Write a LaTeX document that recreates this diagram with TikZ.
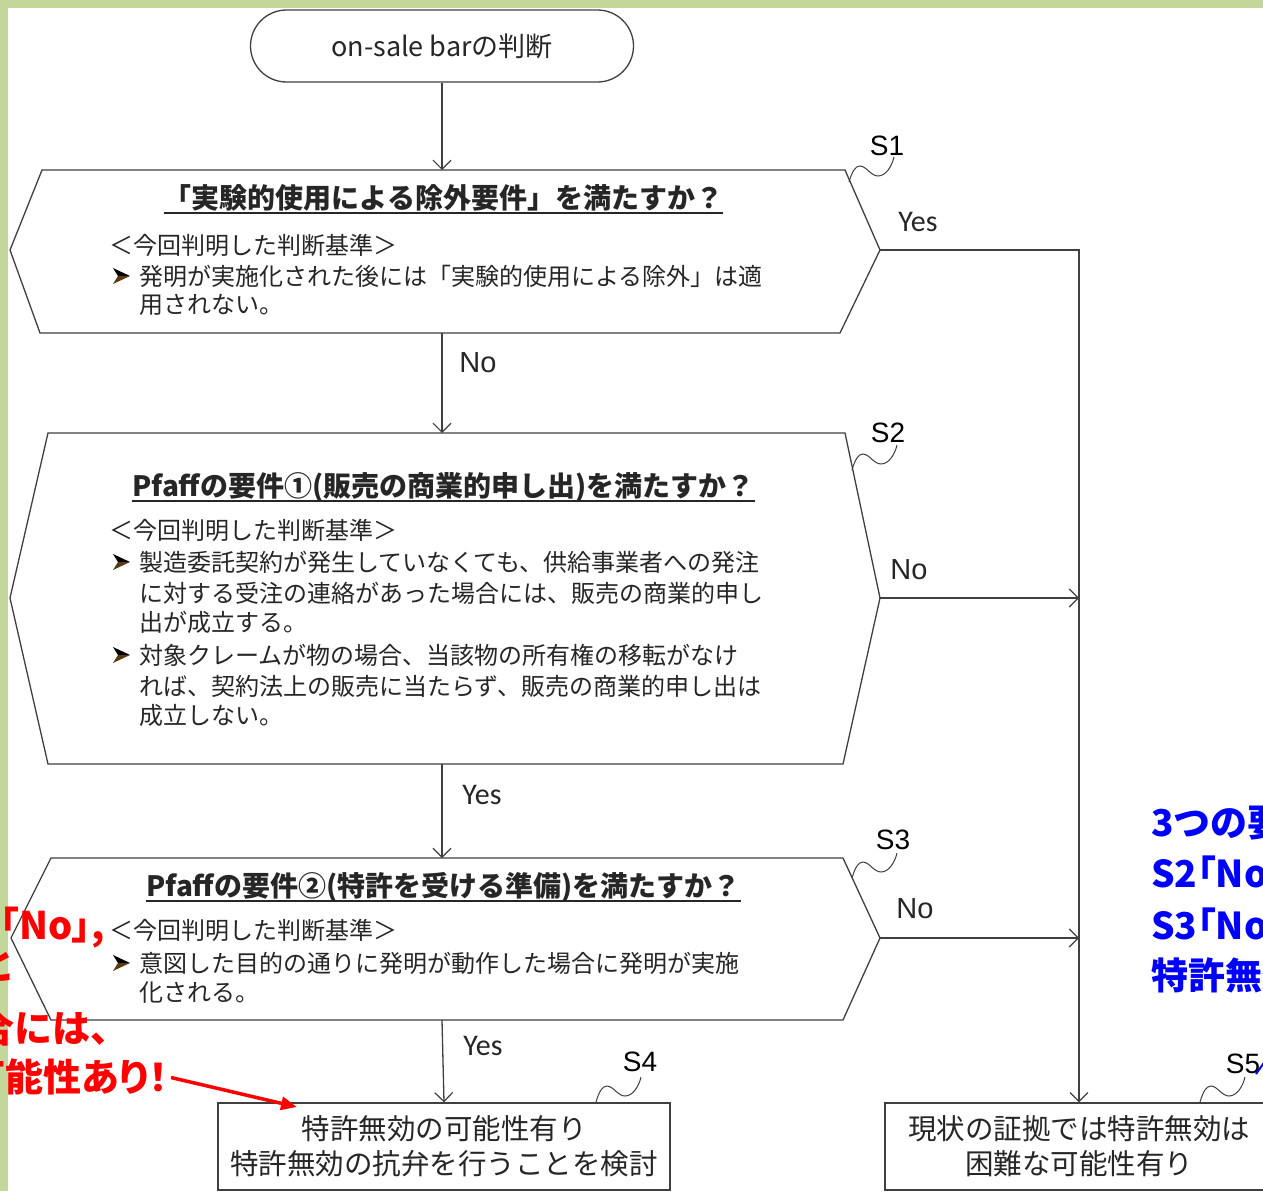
\documentclass[tikz,border=0pt]{standalone}
\usepackage{fontspec}
\setmainfont{Noto Sans CJK JP}
\newfontfamily\jpp[RawFeature=+palt]{Noto Sans CJK JP}
\newfontfamily\arialf{Liberation Sans}
\newfontfamily\calf{Carlito}
\usetikzlibrary{arrows.meta,shapes.misc}
\definecolor{bordergreen}{HTML}{C4D79B}
\definecolor{lncol}{HTML}{404040}
\definecolor{txtcol}{HTML}{262626}
\definecolor{notered}{HTML}{FF0000}
\definecolor{noteblue}{HTML}{0000FF}
\definecolor{bulshade}{HTML}{5A3A10}
\newcommand\squig[1]{\draw[draw=lncol,line width=1pt,shift={#1}] (0,0) .. controls (3,-10) and (6,-16) .. (11,-16) .. controls (17,-16) and (22,-6) .. (29,-6) .. controls (37,-6) and (43,-16) .. (45,-25);}
\newcommand\bulletmark[1]{%
  \fill[black,shift={#1}] (-8,-8) -- (9,0) -- (-3,0) -- cycle;
  \fill[bulshade,shift={#1}] (-8,8) -- (9,0) -- (-3,0) -- cycle;}
\begin{document}
\begin{tikzpicture}[x=1pt,y=-1pt,
  ln/.style={draw=lncol,line width=1.3pt},
  arr/.style={ln,-{Straight Barb[length=9pt,width=18pt,line width=1.2pt]}},
  title/.style={font=\fontsize{28}{33}\selectfont\bfseries,text=txtcol,inner sep=0pt,anchor=base},
  body/.style={font=\fontsize{24}{30}\selectfont,text=txtcol,inner sep=0pt,anchor=base west},
  yeslab/.style={font=\calf\fontsize{30}{32}\selectfont,text=txtcol,inner sep=0pt},
  nolab/.style={font=\arialf\fontsize{29}{32}\selectfont,text=txtcol,inner sep=0pt},
  slab/.style={font=\arialf\fontsize{28}{30}\selectfont,text=black,inner sep=0pt},
  resbox/.style={ln,fill=white,align=center,font=\fontsize{28.5}{35}\selectfont,text=txtcol,minimum height=87pt,inner sep=0pt},
  rednote/.style={font=\jpp\fontsize{38}{40}\selectfont\bfseries,text=notered,inner sep=0pt,anchor=base east},
  rednotefw/.style={font=\fontsize{38}{40}\selectfont\bfseries,text=notered,inner sep=0pt,anchor=base east},
  bluenote/.style={font=\jpp\fontsize{37}{40}\selectfont\bfseries,text=noteblue,inner sep=0pt,anchor=base west},
  bluenotefw/.style={font=\fontsize{37}{40}\selectfont\bfseries,text=noteblue,inner sep=0pt,anchor=base west}
]
\useasboundingbox (0,0) rectangle (1263,1191);
\clip (0,0) rectangle (1263,1191);
\fill[white] (0,0) rectangle (1263,1191);
\fill[bordergreen] (0,0) rectangle (1263,8);
\fill[bordergreen] (0,0) rectangle (8,1191);

% start terminal
\node[ln,rounded rectangle,minimum width=383pt,minimum height=72pt,inner sep=0pt,
      font=\fontsize{27}{30}\selectfont,text=txtcol] (st) at (442,46) {on-sale barの判断};

% S1 hexagon
\draw[ln] (42,170) -- (845,170) -- (880,250) -- (840,333) -- (40,333) -- (10,250) -- cycle;
\coordinate (s1n) at (442,170);
\coordinate (s1s) at (442,333);
\coordinate (s1e) at (880,250);
\node[title] (t1) at (443.5,208.5) {「実験的使用による除外要件」を満たすか？};
\draw[line width=1.6pt,txtcol] ([yshift=-4.5pt]t1.base west) -- ([yshift=-4.5pt]t1.base east);
\node[body] (b1h) at (109,254) {＜今回判明した判断基準＞};
\bulletmark{(121,276)}
\node[body] (b1a) at (139,285) {発明が実施化された後には「実験的使用による除外」は適};
\node[body] (b1b) at (139,313) {用されない。};

% S2 hexagon
\draw[ln] (48,433) -- (845,433) -- (880,598) -- (843,764) -- (48,764) -- (10,598) -- cycle;
\coordinate (s2n) at (442,433);
\coordinate (s2s) at (442,764);
\coordinate (s2e) at (880,598);
\node[title] (t2) at (443.5,496.5) {Pfaffの要件①(販売の商業的申し出)を満たすか？};
\draw[line width=1.6pt,txtcol] ([yshift=-4.5pt]t2.base west) -- ([yshift=-4.5pt]t2.base east);
\node[body] (b2h) at (109,539) {＜今回判明した判断基準＞};
\bulletmark{(121,562)}
\node[body] (b2a) at (139,571) {製造委託契約が発生していなくても、供給事業者への発注};
\node[body] (b2b) at (139,602) {に対する受注の連絡があった場合には、販売の商業的申し};
\node[body] (b2c) at (139,631) {出が成立する。};
\bulletmark{(121,655)}
\node[body] (b2d) at (139,664) {対象クレームが物の場合、当該物の所有権の移転がなけ};
\node[body] (b2e) at (139,695) {れば、契約法上の販売に当たらず、販売の商業的申し出は};
\node[body] (b2f) at (139,724) {成立しない。};

% S3 hexagon
\draw[ln] (51,858) -- (843,858) -- (880,938) -- (843,1020) -- (51,1020) -- (11,938) -- cycle;
\coordinate (s3n) at (442,858);
\coordinate (s3s) at (442,1020);
\coordinate (s3e) at (880,938);
\node[title] (t3) at (443.5,896.5) {Pfaffの要件②(特許を受ける準備)を満たすか？};
\draw[line width=1.6pt,txtcol] ([yshift=-4.5pt]t3.base west) -- ([yshift=-4.5pt]t3.base east);
\node[body] (b3h) at (109,939) {＜今回判明した判断基準＞};
\bulletmark{(121,963)}
\node[body] (b3a) at (139,972) {意図した目的の通りに発明が動作した場合に発明が実施};
\node[body] (b3b) at (139,1001) {化される。};

% result boxes
\node[resbox,minimum width=452pt] (s4) at (444,1146.5) {特許無効の可能性有り\\特許無効の抗弁を行うことを検討};
\node[resbox,minimum width=388pt] (s5) at (1079,1146.5) {現状の証拠では特許無効は\\困難な可能性有り};

% connectors
\draw[arr] (st.south) -- (s1n);
\draw[arr] (s1s) -- (s2n);
\draw[arr] (s2s) -- (s3n);
\draw[arr] (s3s) -- (s4.north);
\draw[arr] (s1e) -- (s1e -| s5.north) -- (s5.north);
\draw[arr] (s2e) -- (s2e -| s5.north);
\draw[arr] (s3e) -- (s3e -| s5.north);

% connector labels
\node[nolab] (l1) at (478,363) {No};
\node[yeslab] (l2) at (918,222) {Yes};
\node[nolab] (l3) at (909,570) {No};
\node[yeslab] (l4) at (482,795) {Yes};
\node[nolab] (l5) at (915,909) {No};
\node[yeslab] (l6) at (483,1046) {Yes};

% step labels with squiggles
\node[slab] (n1) at (887,146) {S1};
\node[slab] (n2) at (888,433) {S2};
\node[slab] (n3) at (893,840) {S3};
\node[slab] (n4) at (640,1062) {S4};
\node[slab] (n5) at (1243,1064) {S5};
\squig{(849,182)}
\squig{(852,470)}
\squig{(852,878)}
\squig{(596,1102)}
\squig{(1200,1102)}

% blue note (cut off at right edge, as in the reference)
\node[bluenotefw] (bl1) at (1151,836) {3つの要件のうち、};
\node[bluenote] (bl2) at (1151,887) {S2「No」又は};
\node[bluenote] (bl3) at (1151,939) {S3「No」の場合は};
\node[bluenotefw] (bl4) at (1151,989) {特許無効は困難};
\coordinate (bluefrom) at (1280,1040);
\coordinate (blueto) at (1256,1074);
\draw[noteblue,line width=2pt] (bluefrom) -- (blueto);

% red note (cut off at left edge, as in the reference)
\node[rednote] (r1) at (105,939) {S3が「No」,};
\node[rednote] (r2) at (12,979) {S2「Yes」と};
\node[rednotefw] (r3) at (129,1042) {なる場合には、};
\node[rednote] (r4) at (168,1091) {特許無効の可能性あり！};
\coordinate (redtip) at (297,1107);
\draw[notered,line width=3.5pt,-{Triangle[length=16pt,width=13pt]}] ([xshift=3pt,yshift=-1pt]r4.east) -- (redtip);
\end{tikzpicture}
\end{document}
